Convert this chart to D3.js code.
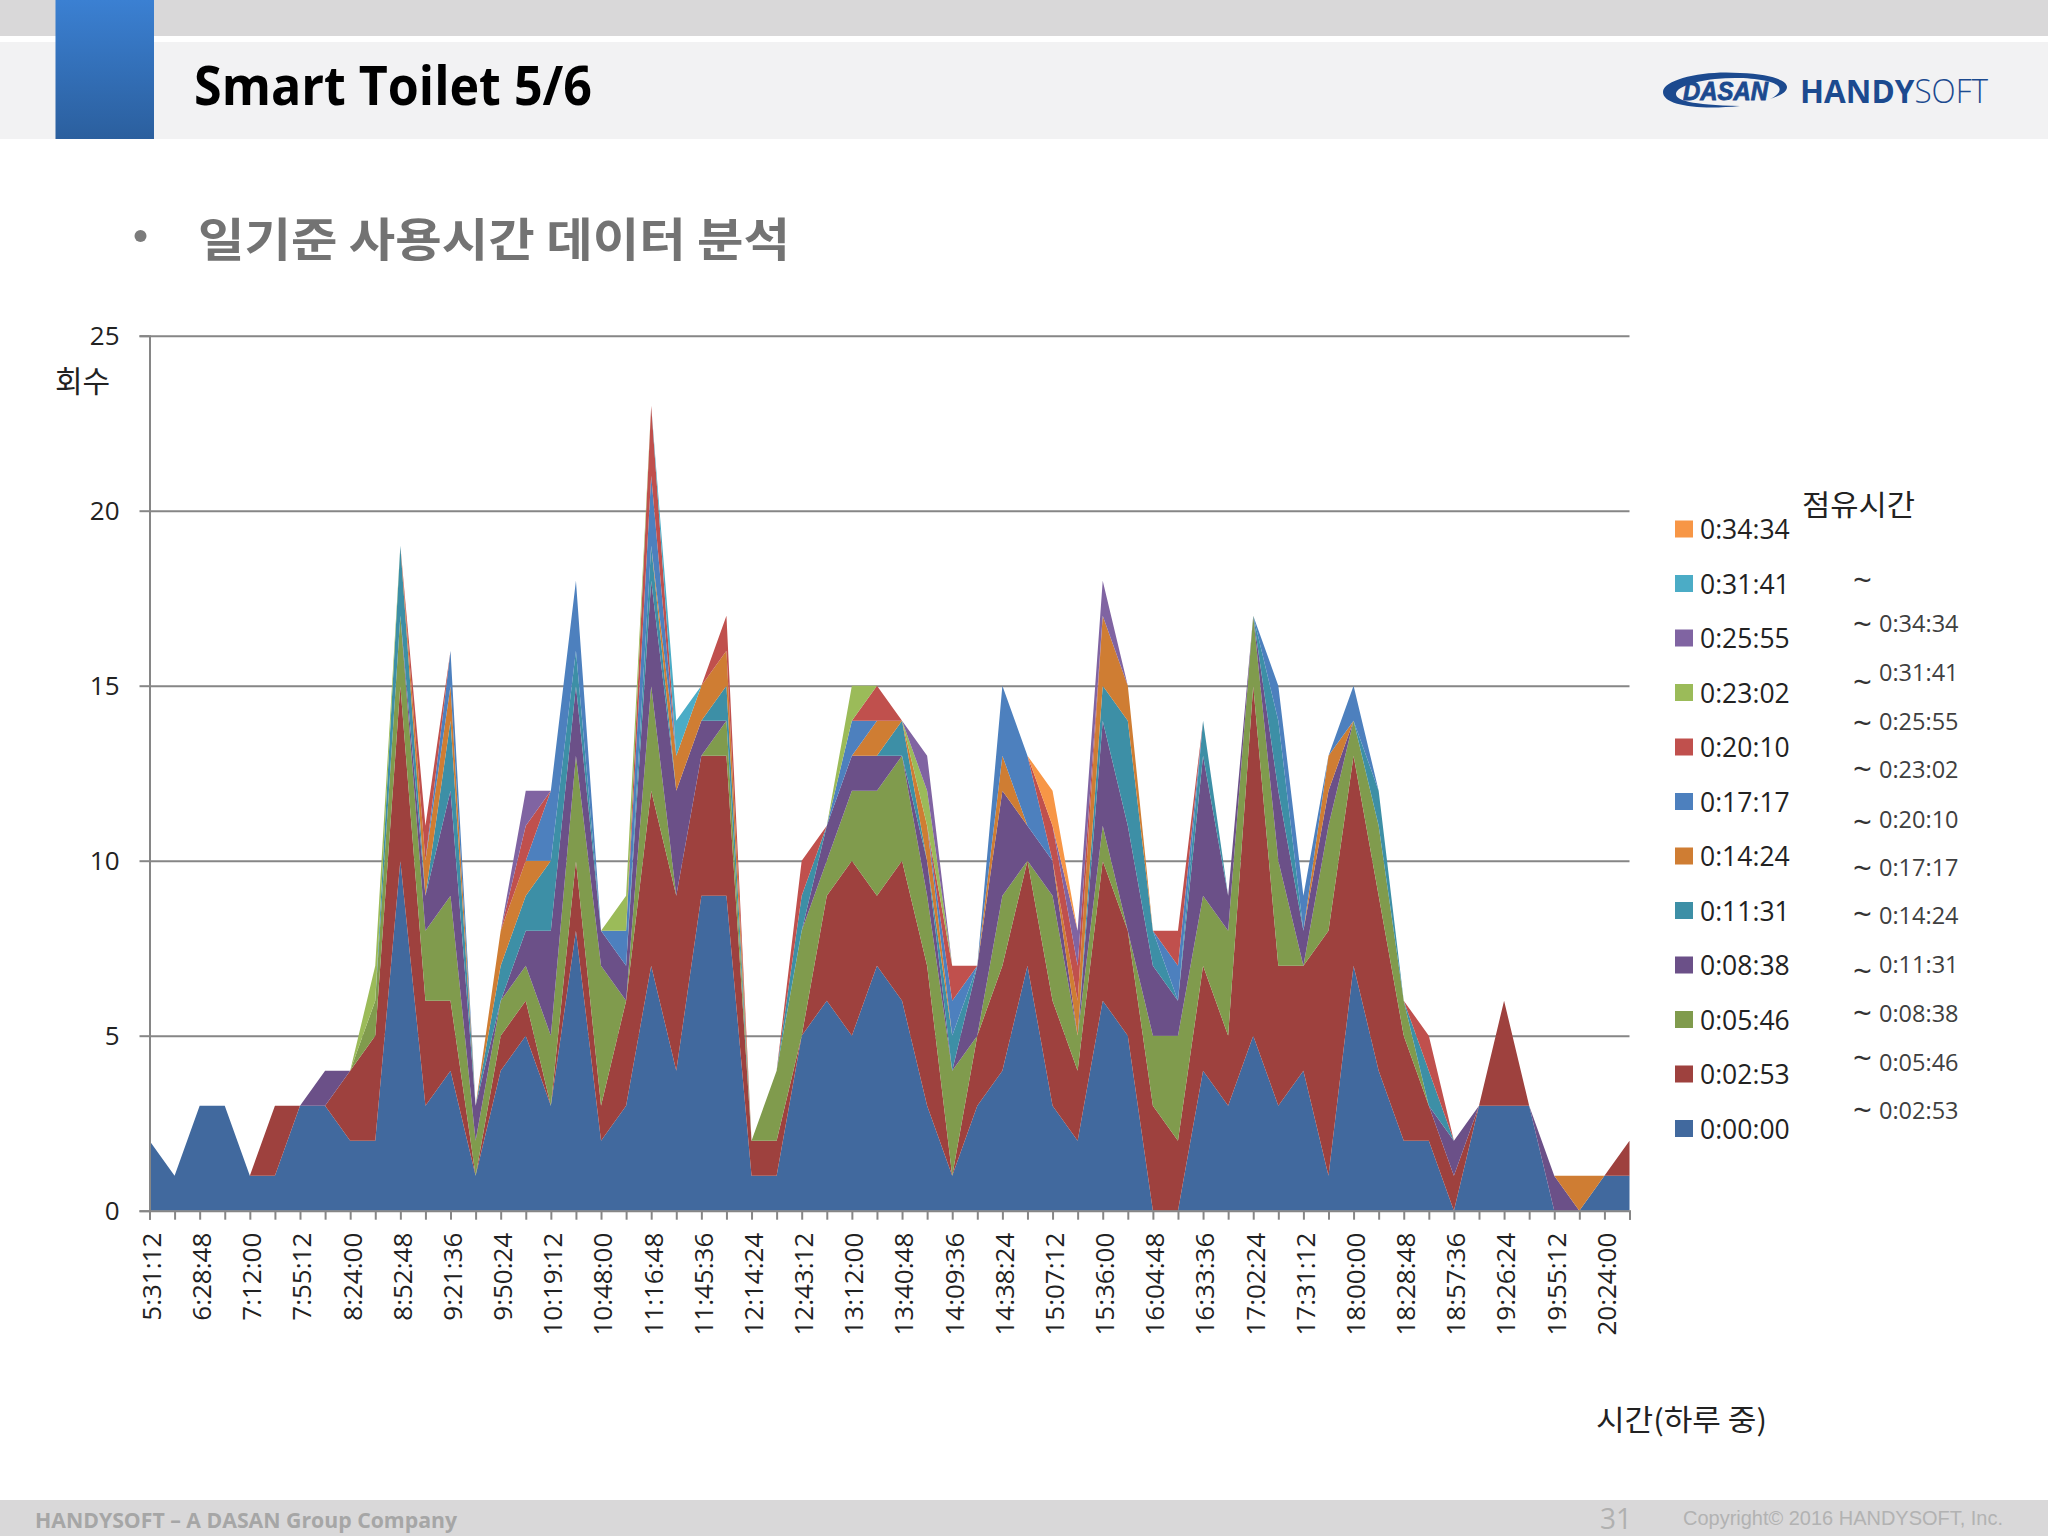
<!DOCTYPE html>
<html><head><meta charset="utf-8">
<script src="https://cdn.jsdelivr.net/npm/d3@7/dist/d3.min.js"></script>
<style>html,body{margin:0;padding:0;background:#fff}svg{display:block}</style>
</head><body><svg id="c" width="2048" height="1536"></svg>
<script>
const categories=["5:31:12","6:00:00","6:28:48","6:43:12","7:12:00","7:26:24","7:55:12","8:09:36","8:24:00","8:38:24","8:52:48","9:07:12","9:21:36","9:36:00","9:50:24","10:04:48","10:19:12","10:33:36","10:48:00","11:02:24","11:16:48","11:31:12","11:45:36","12:00:00","12:14:24","12:28:48","12:43:12","12:57:36","13:12:00","13:26:24","13:40:48","13:55:12","14:09:36","14:24:00","14:38:24","14:52:48","15:07:12","15:21:36","15:36:00","15:50:24","16:04:48","16:19:12","16:33:36","16:48:00","17:02:24","17:16:48","17:31:12","17:45:36","18:00:00","18:14:24","18:28:48","18:43:12","18:57:36","19:12:00","19:26:24","19:40:48","19:55:12","20:09:36","20:24:00","20:38:24"];
const seriesNames=["0:00:00","0:02:53","0:05:46","0:08:38","0:11:31","0:14:24","0:17:17","0:20:10","0:23:02","0:25:55","0:31:41","0:34:34"];
const seriesColors=["#41699E","#9E413E","#809B4D","#6B5088","#3D8FA6","#CF7D33","#4D80BE","#C0504D","#9BBB59","#8064A2","#4BACC6","#F79646"];
const s0=[2,1,3,3,1,1,3,3,2,2, 10,3,4,1,4,5,3,8,2,3, 7,4,9,9,1,1,5,6,5,7, 6,3,1,3,4,7,3,2,6,5, 0,0,4,3,5,3,4,1,7,4, 2,2,0,3,3,3,0,0,1,1];
const s1=[0,0,0,0,0,2,0,0,2,3, 5,3,2,0,1,1,0,2,1,3, 5,5,4,4,1,1,0,3,5,2, 4,4,0,2,3,3,3,2,4,3, 3,2,3,2,10,4,3,7,6,5, 3,1,1,0,3,0,0,0,0,1];
const s2=[0,0,0,0,0,0,0,0,0,1, 2,2,3,1,1,1,2,3,4,0, 3,0,0,1,0,2,3,1,2,3, 3,2,3,0,2,0,3,1,1,0, 2,3,2,3,2,3,0,3,1,2, 1,0,0,0,0,0,0,0,0,0];
const s3=[0,0,0,0,0,0,0,1,0,0, 0,1,3,1,0,1,3,2,1,1, 3,3,1,0,0,0,0,1,1,1, 0,1,0,2,3,1,1,0,3,3, 2,1,4,1,0,2,1,1,0,0, 0,0,1,0,0,0,1,0,0,0];
const s4=[0,0,0,0,0,0,0,0,0,0, 2,0,2,0,1,1,2,1,0,0, 1,0,0,1,0,0,1,0,0,0, 1,0,1,0,0,0,0,0,1,3, 1,0,1,0,0,2,0,0,0,1, 0,1,0,0,0,0,0,0,0,0];
const s5=[0,0,0,0,0,0,0,0,0,0, 0,1,1,0,1,1,0,0,0,0, 0,1,1,1,0,0,0,0,0,1, 0,1,0,0,1,0,0,1,2,1, 0,0,0,0,0,0,0,1,0,0, 0,0,0,0,0,0,0,1,0,0];
const s6=[0,0,0,0,0,0,0,0,0,0, 0,0,1,0,0,0,2,2,0,1, 2,0,0,0,0,0,0,0,1,0, 0,0,1,0,2,2,0,0,0,0, 0,1,0,0,0,1,1,0,1,0, 0,0,0,0,0,0,0,0,0,0];
const s7=[0,0,0,0,0,0,0,0,0,0, 0,1,0,0,0,1,0,0,0,0, 2,0,0,1,0,0,1,0,0,1, 0,0,1,0,0,0,1,1,0,0, 0,1,0,0,0,0,0,0,0,0, 0,1,0,0,0,0,0,0,0,0];
const s8=[0,0,0,0,0,0,0,0,0,1, 0,0,0,0,0,0,0,0,0,1, 0,0,0,0,0,0,0,0,1,0, 0,1,0,0,0,0,0,0,0,0, 0,0,0,0,0,0,0,0,0,0, 0,0,0,0,0,0,0,0,0,0];
const s9=[0,0,0,0,0,0,0,0,0,0, 0,0,0,0,0,1,0,0,0,0, 0,0,0,0,0,0,0,0,0,0, 0,1,0,0,0,0,0,1,1,0, 0,0,0,0,0,0,0,0,0,0, 0,0,0,0,0,0,0,0,0,0];
const s10=[0,0,0,0,0,0,0,0,0,0, 0,0,0,0,0,0,0,0,0,0, 0,1,0,0,0,0,0,0,0,0, 0,0,0,0,0,0,0,0,0,0, 0,0,0,0,0,0,0,0,0,0, 0,0,0,0,0,0,0,0,0,0];
const s11=[0,0,0,0,0,0,0,0,0,0, 0,0,0,0,0,0,0,0,0,0, 0,0,0,0,0,0,0,0,0,0, 0,0,0,0,0,0,1,0,0,0, 0,0,0,0,0,0,0,0,0,0, 0,0,0,0,0,0,0,0,0,0];
const seriesValues=[s0,s1,s2,s3,s4,s5,s6,s7,s8,s9,s10,s11];
const yTicks=[0,5,10,15,20,25];
const rangeLabels=["","0:34:34","0:31:41","0:25:55","0:23:02","0:20:10","0:17:17","0:14:24","0:11:31","0:08:38","0:05:46","0:02:53"];
const rangeLabelY=[581,623,672,721,769,819,867,915,964,1013,1062,1110];
const tildeY=[579,623,681,722,768,821,867,913,970,1012,1057,1109];

const FONT='"Open Sans","Noto Sans CJK KR",sans-serif', KR='"Noto Sans CJK KR","Open Sans",sans-serif';
const svg=d3.select("#c");
const txt=(s,x,y,size,fill,o={})=>{const t=svg.append("text").attr("x",x).attr("y",y).attr("font-size",size).attr("fill",fill)
 .attr("font-family",o.family||FONT).attr("font-weight",o.weight||400).attr("dominant-baseline",o.base||"central").attr("text-anchor",o.anchor||"start").text(s);
 if(o.len)t.attr("textLength",o.len).attr("lengthAdjust","spacingAndGlyphs");return t;};

// page furniture
const defs=svg.append("defs");
const g=defs.append("linearGradient").attr("id","tab").attr("x1",0).attr("y1",0).attr("x2",0).attr("y2",1);
g.append("stop").attr("offset",0).attr("stop-color","#3B80D2");g.append("stop").attr("offset",1).attr("stop-color","#2B5F9E");
svg.append("rect").attr("width",2048).attr("height",36).attr("fill","#D9D8D9");
svg.append("rect").attr("y",42).attr("width",2048).attr("height",97).attr("fill","#F2F2F3");
svg.append("rect").attr("x",55.5).attr("width",98.5).attr("height",139).attr("fill","url(#tab)");
svg.append("rect").attr("y",1500).attr("width",2048).attr("height",36).attr("fill","#D9D8D9");
txt("Smart Toilet 5/6",194,84,54,"#000",{weight:700,len:398});
svg.append("circle").attr("cx",140.5).attr("cy",236).attr("r",6).attr("fill","#7B7B7B");
txt("일기준 사용시간 데이터 분석",198,236,46,"#737373",{family:KR,weight:700,len:592});
// logo
svg.append("path").attr("fill-rule","evenodd").attr("fill","#1C4A8F")
 .attr("d","M1663 92 C1663 79 1705 70 1740 73 C1770 74 1787 80 1787 87 C1787 92 1780 96 1770 99 C1778 95 1781 91 1779 87 C1775 80 1745 76 1715 79 C1690 82 1676 88 1676 94 C1676 100 1690 105 1740 106 C1700 110 1663 106 1663 92 Z");
txt("DASAN",1683,91,25,"#1C4A8F",{family:'"Liberation Sans"',weight:700,len:85}).attr("font-style","italic").attr("stroke","#1C4A8F").attr("stroke-width",0.8);
const logo=txt("HANDY",1800,90,33,"#1C4A8F",{family:'"Open Sans"',weight:700});
logo.append("tspan").attr("font-weight",300).text("SOFT");
logo.attr("textLength",188).attr("lengthAdjust","spacingAndGlyphs");
// footer
txt("HANDYSOFT – A DASAN Group Company",35,1520,21,"#A6A6A6",{weight:700,len:422});
txt("31",1600,1517,30,"#B0B0B0",{len:32});
txt("Copyright© 2016 HANDYSOFT, Inc.",1683,1517,21,"#B2B2B2",{family:'"Liberation Sans"',len:320});

// chart
const x=d3.scalePoint().domain(d3.range(categories.length)).range([149.5,1629.5]);
const y=d3.scaleLinear().domain([0,25]).range([1210.7,335.7]);
const axisColor="#868686";
const grid=svg.append("g").attr("transform","translate(149.5,0)")
 .call(d3.axisLeft(y).tickValues(yTicks.slice(1)).tickSize(-1480).tickFormat(""));
grid.selectAll("line").attr("stroke",axisColor).attr("stroke-width",2);grid.select(".domain").remove();grid.selectAll("text").remove();

const rows=categories.map((c,i)=>{const r={i};seriesNames.forEach((n,k)=>r[n]=seriesValues[k][i]);return r;});
const stack=d3.stack().keys(seriesNames)(rows);
const area=d3.area().x(d=>x(d.data.i)).y0(d=>y(d[0])).y1(d=>y(d[1])).curve(d3.curveLinear);
svg.append("g").selectAll("path").data(stack).join("path").attr("d",area).attr("fill",(d,k)=>seriesColors[k]);

const ax=svg.append("g").attr("transform","translate(149.5,0)")
 .call(d3.axisLeft(y).tickValues(yTicks).tickSize(10).tickPadding(20).tickFormat(d3.format("d")));
const bx=svg.append("g").attr("transform","translate(0,1210.7)")
 .call(d3.axisBottom(x).tickSize(9).tickFormat(i=>categories[i]));
bx.selectAll(".tick").filter(i=>i%2).select("text").remove();
[ax,bx].forEach(a=>{a.selectAll("line").attr("stroke",axisColor).attr("stroke-width",2);
 a.select(".domain").attr("stroke",axisColor).attr("stroke-width",2);
 a.selectAll("text").attr("font-family",FONT).attr("font-size",26).attr("fill","#222");});
bx.selectAll("text").attr("transform","rotate(-90)").attr("text-anchor","end").attr("x",-22).attr("y",2).attr("dy","0.34em");

txt("회수",55,379,30,"#222",{family:KR});
txt("시간(하루 중)",1596,1418,29,"#222",{family:KR,len:171});
txt("점유시간",1802,503,29,"#222",{family:KR,len:113});

// legend
const lg=svg.append("g").selectAll("g").data(seriesNames.slice().reverse()).join("g")
 .attr("transform",(d,i)=>`translate(1675,${529+i*54.5})`);
lg.append("rect").attr("y",-8.5).attr("width",18).attr("height",17).attr("fill",d=>seriesColors[seriesNames.indexOf(d)]);
lg.append("text").attr("x",25).attr("dominant-baseline","central").attr("font-family",FONT).attr("font-size",26.5).attr("fill","#222").text(d=>d);

tildeY.forEach(v=>txt("~",1853,v,33,"#333",{}));
rangeLabels.forEach((s,i)=>{if(s)txt(s,1879,rangeLabelY[i],23.5,"#404040",{});});
</script></body></html>
